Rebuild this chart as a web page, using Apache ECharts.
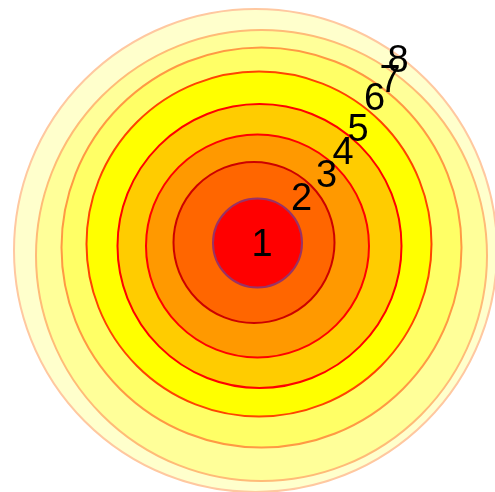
<!DOCTYPE html>
<html>
<head>
<meta charset="utf-8">
<script src="https://cdn.jsdelivr.net/npm/echarts@6/dist/echarts.min.js"></script>
<style>html,body{margin:0;padding:0;background:#fff}#c{width:495px;height:492px}</style>
</head>
<body>
<div id="c"></div>
<script>
// ---- data ----
const names = ['1', '2', '3', '4', '5', '6', '7', '8'];
const centerX = [257.5, 254, 257.5, 259.5, 259, 261.5, 261.5, 255.5];
const centerY = [243, 242.5, 246, 246, 244, 247.5, 255.5, 250.5];
const diameters = [89, 161, 223, 284, 345, 400, 451, 483];

// ---- styles ----
const fills = ['#ff0000', '#ff6600', '#ff9900', '#ffcc00', '#ffff00', '#ffff66', '#ffff99', '#ffffcc'];
const borders = ['#993366', '#cc0000', '#ff0000', '#ff0000', '#ff4400', '#ff9944', '#ffbb77', '#ffc8a0'];
const labelOffsets = [[4.5, 2.5], [47.5, -42.5], [69, -69.5], [83.5, -92.5], [99, -113.5], [113, -147.5], [128.5, -173.5], [142.5, -188.5]];

const data = [];
for (let i = names.length - 1; i >= 0; i--) {
  data.push({
    name: names[i],
    value: [centerX[i], centerY[i], diameters[i]],
    itemStyle: { color: fills[i], borderColor: borders[i], borderWidth: 2, opacity: 1 },
    label: { offset: labelOffsets[i] }
  });
}

const chart = echarts.init(document.getElementById('c'), null, { renderer: 'canvas' });
chart.setOption({
  animation: false,
  grid: { left: 0, right: 0, top: 0, bottom: 0 },
  xAxis: { type: 'value', min: 0, max: 495, show: false },
  yAxis: { type: 'value', min: 0, max: 492, inverse: true, show: false },
  series: [{
    type: 'scatter',
    symbol: 'circle',
    symbolSize: v => v[2],
    data: data,
    emphasis: { disabled: true },
    itemStyle: { opacity: 1 },
    label: {
      show: true,
      position: 'inside',
      formatter: p => p.name,
      color: '#000000',
      opacity: 1,
      fontSize: 38,
      fontFamily: 'Liberation Sans, Arial, sans-serif'
    }
  }]
});
</script>
</body>
</html>
